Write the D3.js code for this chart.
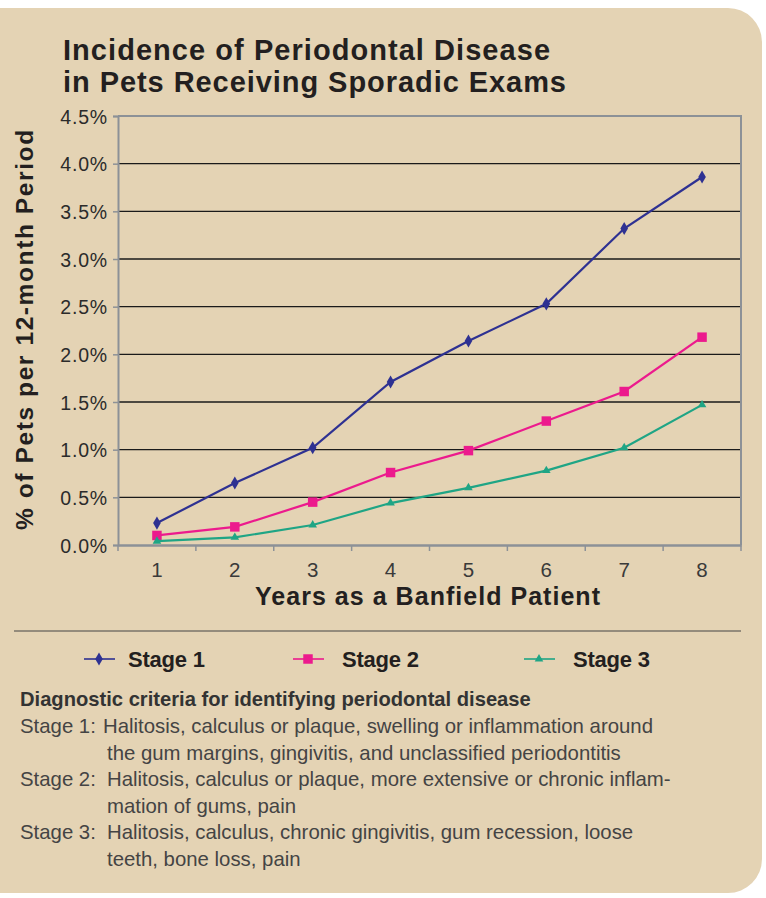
<!DOCTYPE html>
<html><head><meta charset="utf-8">
<script src="https://cdn.jsdelivr.net/npm/d3@7"></script>
<style>body{margin:0;background:#fff;} svg{display:block;}</style>
</head><body>
<svg id="chart" width="766" height="898"></svg>
<script>
const years = ["1","2","3","4","5","6","7","8"];
const stage1 = [0.23,0.65,1.02,1.71,2.14,2.53,3.32,3.86];
const stage2 = [0.10,0.19,0.45,0.76,0.99,1.30,1.61,2.18];
const stage3 = [0.04,0.08,0.21,0.44,0.60,0.78,1.02,1.47];
const yTicks = [0,0.5,1.0,1.5,2.0,2.5,3.0,3.5,4.0,4.5];
const seriesNames = ["Stage 1","Stage 2","Stage 3"];
const title = ["Incidence of Periodontal Disease","in Pets Receiving Sporadic Exams"];
const notes = [
  ["Stage 1:","Halitosis, calculus or plaque, swelling or inflammation around"],
  ["","the gum margins, gingivitis, and unclassified periodontitis"],
  ["Stage 2:","Halitosis, calculus or plaque, more extensive or chronic inflam-"],
  ["","mation of gums, pain"],
  ["Stage 3:","Halitosis, calculus, chronic gingivitis, gum recession, loose"],
  ["","teeth, bone loss, pain"]
];

const colors = ["#2e3192","#ec1a8d","#1fa585"];
const svg = d3.select("#chart");
const sans = "'Liberation Sans',Arial,Helvetica,sans-serif";

function fit(sel, w){
  sel.each(function(){
    const n = this.getNumberOfChars();
    const cur = this.getComputedTextLength();
    const ls = (w - cur)/Math.max(1,n-1);
    d3.select(this).attr("letter-spacing", ls.toFixed(2));
  });
}
function fitSize(node, w){
  const fs = +node.getAttribute("font-size");
  const cur = node.getComputedTextLength();
  return fs*w/cur;
}

// panel
svg.append("rect").attr("x",-40).attr("y",8).attr("width",802).attr("height",885)
  .attr("rx",34).attr("fill","#e4d3b4");

// title
svg.append("g").selectAll("text").data(title).join("text")
  .attr("x",63).attr("y",(d,i)=>60+i*32)
  .attr("font-family",sans).attr("font-weight","bold").attr("font-size",29)
  .attr("fill","#231f20").text(d=>d)
  .call(s=>s.each(function(d,i){ fit(d3.select(this), i===0?487:503); }));

const m = {l:118,r:741,t:116,b:545};
const x = d3.scaleBand().domain(years).range([m.l,m.r]);
const y = d3.scaleLinear().domain([0,4.5]).range([m.b,m.t]);

// gridlines
svg.append("g").selectAll("line").data(yTicks.filter(d=>d>0&&d<4.5)).join("line")
  .attr("x1",m.l).attr("x2",m.r).attr("y1",d=>y(d)).attr("y2",d=>y(d))
  .attr("stroke","#1a1a1a").attr("stroke-width",1.3);

// frame top/right
svg.append("path").attr("d",`M${m.l},${m.t}H${m.r}V${m.b}`)
  .attr("fill","none").attr("stroke","#8c9197").attr("stroke-width",2);

// y axis
const yAxis = svg.append("g").attr("transform",`translate(${m.l},0)`)
  .call(d3.axisLeft(y).tickValues(yTicks).tickFormat(d=>d3.format(".1f")(d)+"%").tickSize(5).tickPadding(5));
yAxis.select(".domain").attr("stroke","#8c9197").attr("stroke-width",2);
yAxis.selectAll(".tick line").attr("stroke","#8c9197").attr("stroke-width",1.5);
yAxis.selectAll("text").attr("font-family",sans).attr("font-size",19.5).attr("fill","#2b2b2b")
  .attr("letter-spacing",0.8).attr("dy","0.36em");

// x axis
const xAxis = svg.append("g").attr("transform",`translate(0,${m.b})`)
  .call(d3.axisBottom(x).tickSize(0).tickPadding(17));
xAxis.select(".domain").attr("stroke","#8c9197").attr("stroke-width",2.5);
xAxis.selectAll("text").attr("font-family",sans).attr("font-size",20.5).attr("fill","#3a3a3a");
xAxis.selectAll(".bt").data(d3.range(years.length+1)).join("line")
  .attr("x1",i=>m.l+i*x.step()).attr("x2",i=>m.l+i*x.step()).attr("y1",0).attr("y2",6)
  .attr("stroke","#8c9197").attr("stroke-width",1.5);

// axis titles
svg.append("text").attr("x",255).attr("y",605)
  .attr("font-family",sans).attr("font-weight","bold").attr("font-size",25).attr("fill","#231f20")
  .text("Years as a Banfield Patient").call(fit,345);
svg.append("text").attr("transform",`translate(33,530) rotate(-90)`)
  .attr("font-family",sans).attr("font-weight","bold").attr("font-size",24.5).attr("fill","#231f20")
  .text("% of Pets per 12-month Period").call(fit,400);

// lines
const data = [stage1,stage2,stage3];
const line = d3.line().x((d,i)=>x(years[i])+x.bandwidth()/2).y(d=>y(d));
const symbols = [d3.symbolDiamond,d3.symbolSquare,d3.symbolTriangle];
const sizes = [50,90,32];
data.forEach((s,k)=>{
  svg.append("path").datum(s).attr("d",line).attr("fill","none")
    .attr("stroke",colors[k]).attr("stroke-width",2.2);
  svg.append("g").selectAll("path").data(s).join("path")
    .attr("transform",(d,i)=>`translate(${x(years[i])+x.bandwidth()/2},${y(d)})`)
    .attr("d",d3.symbol().type(symbols[k]).size(sizes[k])).attr("fill",colors[k]);
});

// separator
svg.append("line").attr("x1",14).attr("x2",741).attr("y1",631).attr("y2",631)
  .attr("stroke","#444").attr("stroke-width",1);

// legend
const legX = [84,293,524];
const lg = svg.append("g").selectAll("g").data(seriesNames).join("g")
  .attr("transform",(d,i)=>`translate(${legX[i]},659)`);
lg.append("line").attr("x1",0).attr("x2",31).attr("stroke",(d,i)=>colors[i]).attr("stroke-width",1.6);
lg.append("path").attr("transform","translate(15,0)")
  .attr("d",(d,i)=>d3.symbol().type(symbols[i]).size(sizes[i])()).attr("fill",(d,i)=>colors[i]);
lg.append("text").attr("x",(d,i)=>i===0?44:49).attr("y",8).attr("font-family",sans).attr("font-weight","bold")
  .attr("font-size",22).attr("fill","#231f20").text(d=>d).call(fit,77);

// notes
const head = svg.append("text").attr("x",20).attr("y",706).attr("font-family",sans).attr("font-weight","bold")
  .attr("font-size",18).attr("fill","#333").text("Diagnostic criteria for identifying periodontal disease");
head.attr("font-size", fitSize(head.node(),511).toFixed(2));

const ng = svg.append("g").selectAll("g").data(notes).join("g")
  .attr("transform",(d,i)=>`translate(0,${733+i*26.6})`);
const bodies = ng.append("text").attr("x",(d,i)=>i===0?103:107).attr("font-family",sans).attr("font-size",19).attr("fill","#444").text(d=>d[1]);
const bodySize = fitSize(bodies.node(),550).toFixed(2);
bodies.attr("font-size",bodySize);
ng.append("text").attr("x",20).attr("font-family",sans).attr("font-size",bodySize).attr("fill","#444").text(d=>d[0]);
</script>
</body></html>
